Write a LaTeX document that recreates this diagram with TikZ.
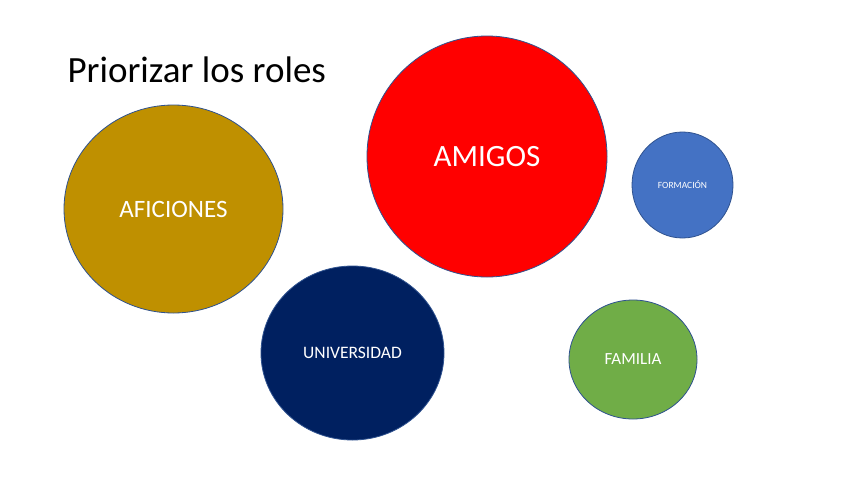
\documentclass[tikz,border=0pt]{standalone}
\usepackage{fontspec}
\setmainfont{Carlito}
\usetikzlibrary{shapes.geometric}
\definecolor{ochre}{HTML}{BF9000}
\definecolor{navy}{HTML}{002060}
\definecolor{azul}{HTML}{4472C4}
\definecolor{verde}{HTML}{70AD47}
\definecolor{borde}{HTML}{2F528F}
\begin{document}
\begin{tikzpicture}[x=1pt,y=-1pt,
 role/.style={ellipse,draw=borde,line width=0.8pt,text=white,inner sep=0pt}]
\useasboundingbox[fill=white] (0,0) rectangle (848,477);
\node[anchor=base west,font=\fontsize{37}{40}\selectfont] (title) at (64,82) {Priorizar los roles};
\node[role,fill=ochre,minimum width=219pt,minimum height=208pt,font=\fontsize{25}{28}\selectfont] (aficiones) at (173.5,209) {AFICIONES};
\node[role,fill=red,minimum width=240pt,minimum height=241pt,font=\fontsize{31}{34}\selectfont] (amigos) at (487,156.5) {AMIGOS};
\node[role,fill=azul,minimum width=101pt,minimum height=106pt,font=\fontsize{9.5}{11}\selectfont] (formacion) at (682.5,185) {FORMACIÓN};
\node[role,fill=navy,minimum width=183pt,minimum height=174pt,font=\fontsize{17.5}{20}\selectfont] (universidad) at (352.5,353) {UNIVERSIDAD};
\node[role,fill=verde,minimum width=128pt,minimum height=119pt,font=\fontsize{17}{19}\selectfont] (familia) at (633,359.5) {FAMILIA};
\end{tikzpicture}
\end{document}
